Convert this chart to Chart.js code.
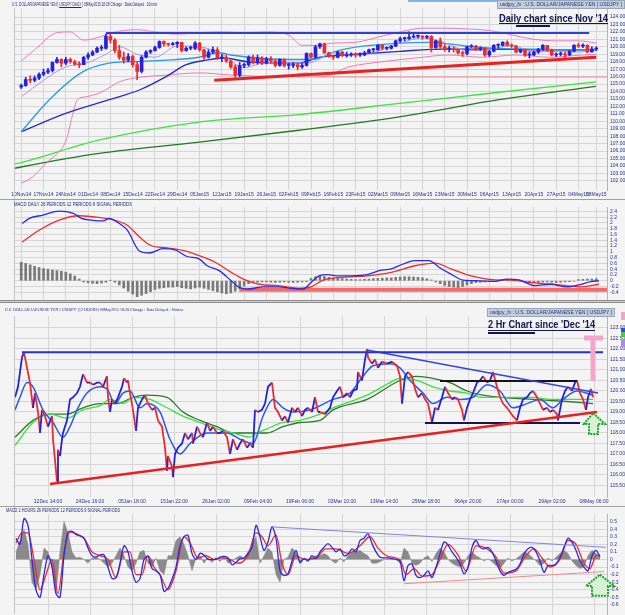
<!DOCTYPE html>
<html>
<head>
<meta charset="utf-8">
<title>USDJPY daily and 2 hour</title>
<script src="https://cdn.jsdelivr.net/npm/chart.js@4.4.1/dist/chart.umd.min.js"></script>
<style>
  body { margin: 0; width: 625px; height: 615px; background: #f4f4f4; position: relative; overflow: hidden; font-family: 'Liberation Sans', Arial, sans-serif; }
  canvas { position: absolute; left: 0; }
  .small { position: absolute; font-size: 5px; line-height: 6px; color: #1e2a78; white-space: nowrap; transform-origin: 0 0; }
  .box { position: absolute; background: #c3cfdb; border: 1px solid #98a6b6; height: 9px; box-sizing: border-box; overflow: hidden; }
  .box span { position: absolute; left: 2px; top: 0; font-size: 6px; line-height: 7px; color: #26307a; white-space: nowrap; transform-origin: 0 0; }
  .big { position: absolute; font: bold 11px 'Liberation Sans', Arial, sans-serif; color: #14164e; white-space: nowrap; transform-origin: 0 0; }
  .rule { position: absolute; }
</style>
</head>
<body>
<canvas id="dailyChart" width="625" height="200" style="top:0"></canvas>
<canvas id="dailyMacd" width="625" height="100" style="top:200px"></canvas>
<canvas id="hourChart" width="625" height="204" style="top:303px"></canvas>
<canvas id="hourMacd" width="625" height="108" style="top:507px"></canvas>

<div class="rule" style="left:408px;top:0;width:89px;height:2px;background:#7fb2e6"></div>
<div class="small" data-w="145" style="left:12px;top:1px">U.S. DOLLAR/JAPANESE YEN [ <u>USDJPY DAILY</u> ] 08May2015 18:28 Chicago : Data Delayed : 10mins</div>
<div class="box" style="left:497px;top:0;width:128px"><span data-w="122">usdjpy_fx : U.S. DOLLAR/JAPANESE YEN [ USDJPY ]</span></div>
<div class="big" data-w="109" style="left:499px;top:12px">Daily chart since Nov '14</div>
<div class="rule" style="left:499px;top:23px;width:109px;height:1px;background:#14164e"></div>
<div class="rule" style="left:516px;top:25px;width:34px;height:2px;background:#14164e"></div>
<div class="rule" style="left:14px;top:8px;width:1px;height:292px;background:#c4c4c4"></div>

<div class="rule" style="left:0;top:199px;width:625px;height:1px;background:#a0a0a0"></div>
<div class="small" data-w="118" style="left:14px;top:201px">MACD DAILY 26 PERIODS 12 PERIODS 9 SIGNAL PERIODS</div>

<div class="rule" style="left:0;top:300px;width:625px;height:1px;background:#d0d0d0;border-top:1px solid #8c8c8c;border-bottom:1px solid #8c8c8c"></div>
<div class="small" data-w="178" style="left:5px;top:307px;font-family:'Liberation Serif',serif">U.S. DOLLAR/JAPANESE YEN [ USDJPY ] [2 HOURS] 08May2015 18:28 Chicago : Data Delayed : 10mins</div>
<div class="box" style="left:487px;top:308px;width:128px"><span data-w="122">usdjpy_fx : U.S. DOLLAR/JAPANESE YEN [ USDJPY ]</span></div>
<div class="big" data-w="107" style="left:488px;top:318px">2 Hr Chart since 'Dec '14</div>
<div class="rule" style="left:488px;top:330px;width:107px;height:1px;background:#14164e"></div>
<div class="rule" style="left:488px;top:332px;width:47px;height:2px;background:#14164e"></div>
<div class="rule" style="left:14px;top:316px;width:1px;height:298px;background:#c4c4c4"></div>
<div class="rule" style="left:621px;top:312px;width:4px;height:8px;background:#f2a6c8"></div>
<div class="rule" style="left:621px;top:328px;width:4px;height:4px;background:#3a4ae0"></div>
<div class="rule" style="left:621px;top:332px;width:4px;height:5px;background:#3ed03e"></div>
<div class="rule" style="left:621px;top:340px;width:4px;height:7px;background:#a98ee0"></div>

<div class="rule" style="left:0;top:506px;width:625px;height:1px;background:#a0a0a0"></div>
<div class="small" data-w="114" style="left:6px;top:507px">MACD 2 HOURS 26 PERIODS 12 PERIODS 9 SIGNAL PERIODS</div>

<script>
// ---------- daily candles, one per trading day from 10 Nov 2014 to 08 May 2015
const dayOpen = [
  114.6, 114.8, 115.6, 115.5, 115.8, 116.3, 116.6, 116.8, 117.9, 118.3,
  117.8, 118.3, 118.0, 117.7, 117.6, 118.6, 118.9, 119.3, 119.8, 119.8,
  121.4, 120.9, 119.5, 118.6, 118.2, 118.7, 117.6, 116.7, 118.6, 119.3,
  119.5, 119.9, 120.7, 120.4, 120.3, 120.4, 120.6, 119.5, 119.8, 119.8,
  120.5, 119.6, 118.6, 119.3, 119.6, 118.5, 118.6, 118.1, 117.3, 116.2,
  117.5, 117.6, 118.6, 117.9, 118.5, 117.8, 118.4, 118.1, 117.5, 118.3,
  117.5, 117.5, 117.6, 117.3, 117.5, 119.1, 118.6, 120.0, 120.4, 119.2,
  118.7, 118.6, 119.3, 118.8, 118.9, 119.0, 118.9, 118.9, 119.2, 119.6,
  119.6, 120.2, 119.8, 119.8, 120.1, 120.8, 121.1, 121.1, 121.3, 121.4,
  121.4, 121.3, 121.4, 119.9, 120.8, 120.0, 119.7, 119.7, 119.6, 119.2,
  119.1, 120.0, 120.1, 119.7, 119.8, 118.9, 119.4, 120.2, 120.2, 120.6,
  120.2, 120.1, 119.3, 119.6, 118.9, 118.9, 119.3, 119.7, 120.2, 119.6,
  118.9, 119.0, 119.0, 118.9, 119.4, 120.2, 120.1, 120.2, 119.3, 119.7
];
const dayHigh = [
  115.0, 115.9, 116.1, 116.1, 116.5, 117.0, 117.1, 118.0, 118.6, 118.4,
  118.6, 118.5, 118.2, 118.0, 118.7, 119.2, 119.5, 120.0, 120.2, 121.7,
  121.85, 121.1, 120.2, 119.3, 119.1, 118.9, 118.0, 118.8, 119.5, 119.6,
  120.1, 120.8, 120.8, 120.5, 120.6, 120.7, 120.6, 120.0, 120.1, 120.7,
  120.6, 119.7, 119.6, 120.0, 119.9, 119.0, 118.9, 118.2, 117.6, 117.9,
  117.8, 118.8, 118.9, 118.9, 118.7, 118.6, 118.7, 118.3, 118.4, 118.4,
  117.8, 117.9, 117.8, 117.8, 119.2, 119.2, 120.2, 120.5, 120.5, 119.3,
  118.9, 119.4, 119.4, 119.3, 119.2, 119.2, 119.2, 119.4, 119.7, 119.8,
  120.3, 120.3, 120.0, 120.2, 120.9, 121.3, 121.3, 122.0, 121.7, 121.6,
  121.5, 121.5, 121.5, 120.9, 121.2, 120.4, 120.1, 120.0, 119.7, 119.4,
  120.1, 120.3, 120.2, 120.0, 119.9, 119.5, 120.3, 120.4, 120.7, 120.8,
  120.4, 120.2, 119.7, 119.7, 119.3, 119.4, 119.8, 120.3, 120.2, 119.7,
  119.2, 119.3, 119.3, 119.5, 120.3, 120.5, 120.4, 120.3, 120.0, 120.0
];
const dayLow = [
  114.4, 114.7, 115.2, 115.3, 115.6, 116.1, 116.4, 116.6, 117.8, 117.3,
  117.6, 117.8, 117.5, 117.2, 117.6, 118.3, 118.8, 119.2, 119.5, 119.7,
  120.5, 119.2, 118.3, 117.8, 118.0, 117.3, 115.6, 116.5, 118.5, 119.1,
  119.4, 119.8, 120.1, 120.1, 120.2, 119.9, 119.3, 119.4, 119.6, 119.6,
  119.4, 118.3, 118.5, 119.1, 118.3, 118.0, 117.9, 117.1, 115.9, 116.0,
  117.2, 117.4, 117.7, 117.7, 117.6, 117.7, 117.8, 117.3, 117.4, 117.3,
  117.0, 117.2, 116.9, 117.1, 117.4, 118.5, 118.4, 119.8, 119.1, 118.6,
  118.3, 118.5, 118.7, 118.6, 118.7, 118.6, 118.7, 118.8, 119.1, 119.3,
  119.5, 119.6, 119.6, 119.7, 120.0, 120.6, 120.8, 121.0, 121.2, 121.2,
  121.0, 121.1, 119.3, 119.8, 119.8, 119.4, 119.3, 119.3, 119.0, 118.7,
  118.9, 119.9, 119.5, 119.5, 118.7, 118.7, 119.3, 119.8, 120.1, 120.1,
  119.9, 119.2, 119.2, 118.7, 118.5, 118.8, 119.1, 119.5, 119.4, 118.8,
  118.7, 118.8, 118.5, 118.8, 119.3, 119.9, 119.9, 119.2, 119.3, 119.5
];
const dayClose = [
  114.8, 115.6, 115.5, 115.8, 116.3, 116.6, 116.8, 117.9, 118.3, 117.8,
  118.3, 118.0, 117.7, 117.6, 118.6, 118.9, 119.3, 119.8, 119.8, 121.4,
  120.9, 119.5, 118.6, 118.2, 118.7, 117.6, 116.7, 118.6, 119.3, 119.5,
  119.9, 120.7, 120.4, 120.3, 120.4, 120.6, 119.5, 119.8, 119.8, 120.5,
  119.6, 118.6, 119.3, 119.6, 118.5, 118.6, 118.1, 117.3, 116.2, 117.5,
  117.6, 118.6, 117.9, 118.5, 117.8, 118.4, 118.1, 117.5, 118.3, 117.5,
  117.5, 117.6, 117.3, 117.5, 119.1, 118.6, 120.0, 120.4, 119.2, 118.7,
  118.6, 119.3, 118.8, 118.9, 119.0, 118.9, 118.9, 119.2, 119.6, 119.6,
  120.2, 119.8, 119.8, 120.1, 120.8, 121.1, 121.1, 121.3, 121.4, 121.4,
  121.3, 121.4, 119.9, 120.8, 120.0, 119.7, 119.7, 119.6, 119.2, 119.1,
  120.0, 120.1, 119.7, 119.8, 118.9, 119.4, 120.2, 120.2, 120.6, 120.2,
  120.1, 119.3, 119.6, 118.9, 118.9, 119.3, 119.7, 120.2, 119.6, 118.9,
  119.0, 119.0, 118.9, 119.4, 120.2, 120.1, 120.2, 119.3, 119.7, 119.8
];
const dayTickIdx = [0, 5, 10, 15, 20, 25, 30, 35, 40, 45, 50, 55, 60, 65, 70, 75, 80, 85, 90, 95, 100, 105, 110, 115, 120, 125, 129];
const dayTickLabels = ['10Nov14', '17Nov14', '24Nov14', '01Dec14', '08Dec14', '15Dec14', '22Dec14', '29Dec14', '05Jan15',
  '12Jan15', '19Jan15', '26Jan15', '02Feb15', '09Feb15', '16Feb15', '23Feb15', '02Mar15', '09Mar15', '16Mar15', '23Mar15',
  '30Mar15', '06Apr15', '13Apr15', '20Apr15', '27Apr15', '04May15', '08May15'];
const dayPriceTicks = [102, 103, 104, 105, 106, 107, 108, 109, 110, 111, 112, 113, 114, 115, 116, 117, 118, 119, 120, 121, 122, 123, 124];

// daily overlays, [day index, price]
const dayMaShort = [[0, 113.3], [5, 115.5], [10, 117.3], [15, 117.9], [19, 119.0], [22, 120.0], [26, 119.0], [30, 118.6], [35, 120.1], [40, 120.0], [45, 119.0], [50, 117.2], [55, 117.9], [60, 117.8], [65, 117.9], [70, 119.2], [75, 118.9], [80, 119.4], [85, 120.5], [90, 121.2], [95, 120.5], [100, 119.5], [105, 119.6], [110, 120.2], [115, 119.3], [120, 119.4], [125, 119.3], [129, 119.7]];
const dayMaFast = [[0, 108.6], [6.3, 112.9], [13.7, 116.6], [19.7, 117.8], [24.9, 118.0], [32.5, 118.2], [39.9, 118.6], [44.4, 119.2], [47, 118.9], [55, 118.4], [62, 118.3], [67, 118.5], [70, 119.3], [85, 120.5], [92, 120.6], [100, 120.1], [107, 119.8], [115, 119.7], [122, 119.6], [129, 119.6]];
const dayMaSlow = [[0, 108.6], [10.1, 111.1], [19.7, 112.9], [26.5, 114.2], [32.5, 116.0], [37, 117.6], [41.5, 118.2], [45.1, 118.5], [52, 117.9], [62, 117.8], [67, 118.6], [75, 119.0], [85, 119.4], [95, 119.7], [105, 119.7], [115, 119.6], [129, 119.6]];
const dayBandUpper = [[0, 118.1], [3, 119.6], [8, 121.9], [11, 122.0], [14, 120.9], [17, 121.2], [19, 121.6], [22, 122.1], [26, 122.3], [30, 122.0], [35, 121.7], [40, 121.9], [45, 122.0], [50, 121.9], [55, 122.0], [60, 121.6], [63, 120.2], [66, 120.2], [70, 120.5], [75, 120.6], [80, 121.3], [85, 122.0], [90, 122.5], [95, 122.5], [100, 122.4], [105, 122.2], [110, 121.6], [115, 121.0], [120, 120.8], [125, 120.8], [129, 120.5]];
const dayBandLower = [[0, 101.7], [2.5, 102.5], [5.6, 104.4], [8.1, 105.7], [10.1, 107.5], [11.4, 110.6], [12.6, 112.9], [14.6, 113.3], [17.5, 113.8], [19.7, 114.5], [22, 115.3], [26.5, 115.9], [32.5, 116.2], [40, 116.5], [47.3, 116.2], [58.5, 116.0], [64, 116.5], [67.5, 116.0], [73.5, 117.3], [81, 118.0], [88.5, 118.5], [96, 118.9], [103.4, 118.6], [111, 118.9], [118.4, 118.6], [125.8, 118.9], [129, 119.0]];
const dayMa100 = [[-1.4, 104.3], [0.2, 104.5], [17.5, 107.5], [39.9, 109.9], [62.3, 110.9], [84.8, 112.4], [107.2, 113.9], [128.9, 115.3]];
const dayMa200 = [[-1.4, 103.7], [0.2, 103.9], [17.5, 105.7], [39.9, 107.2], [62.3, 108.8], [84.8, 110.6], [107.2, 112.9], [128.9, 114.7]];
const dayResistance = [[19, 121.85], [127.4, 121.85]];
const daySupport = [[43.3, 115.5], [129, 118.6]];
const dayAlert = [[62, 115.95], [131.4, 115.95]];

// daily MACD (26, 12, 9)
const dmacdLine = [[0.2, 1.98], [1.8, 2.16], [4.9, 2.27], [8.5, 2.41], [11.7, 2.33], [13.5, 2.16], [15.7, 2.10], [18.4, 2.07], [19.7, 2.16], [22, 1.98], [23.8, 1.75], [26.5, 1.03], [28.7, 0.96], [31.8, 1.11], [34.5, 1.07], [37.2, 0.84], [39.9, 0.76], [41.7, 0.52], [44.4, 0.35], [47.1, 0.0], [48.9, -0.23], [50.7, -0.29], [54.3, -0.21], [57.8, -0.21], [60.5, -0.26], [63.2, -0.29], [65, -0.06], [66.8, 0.17], [68.6, 0.21], [71.3, 0.17], [74, 0.17], [77.6, 0.21], [80.3, 0.35], [83, 0.41], [85.7, 0.58], [88.3, 0.70], [91.5, 0.70], [93.7, 0.47], [96.4, 0.23], [99.1, 0.02], [102.7, 0.0], [106.3, -0.02], [109, 0.06], [111.7, 0.03], [115.2, -0.17], [118.8, -0.12], [122.4, -0.21], [125.1, -0.14], [127.8, -0.03], [129.6, 0.0]];
const dmacdSignal = [[0.2, 1.34], [4, 1.75], [8.5, 2.10], [13, 2.25], [17.5, 2.19], [20.2, 2.12], [23.8, 1.92], [26.5, 1.52], [29.1, 1.22], [32.7, 1.14], [36.3, 1.05], [39.9, 0.87], [43.5, 0.64], [47.1, 0.29], [49.8, 0.06], [53.4, -0.12], [57.8, -0.17], [62.3, -0.26], [65, -0.21], [67.7, 0.02], [72.2, 0.12], [77.6, 0.17], [83, 0.29], [88.3, 0.52], [92.8, 0.61], [96.4, 0.41], [100.9, 0.17], [106.3, 0.03], [109.9, 0.02], [114.3, -0.06], [120.6, -0.14], [125.1, -0.21], [129.6, -0.12]];
const dmacdHist = [
  0.64, 0.6, 0.55, 0.5, 0.46, 0.42, 0.4, 0.37, 0.35, 0.33, 0.3, 0.24, 0.16,
  0.06, -0.04, -0.07, -0.09, -0.1, -0.08, -0.05, 0.02, -0.05,
  -0.14, -0.25, -0.36, -0.46, -0.55, -0.5, -0.44, -0.38, -0.3,
  -0.26, -0.24, -0.22, -0.22, -0.2, -0.24, -0.26, -0.28, -0.25, -0.22, -0.26, -0.3, -0.34, -0.38, -0.42,
  -0.45, -0.42, -0.36, -0.28, -0.18,
  -0.1, -0.06, -0.05, -0.04, -0.04, -0.05, -0.06, -0.05, -0.04, -0.05, -0.06, -0.05, -0.04, -0.03,
  0.08, 0.14, 0.16, 0.15, 0.12, 0.1,
  0.08, 0.07, 0.06, 0.05, 0.04, 0.04, 0.05, 0.06, 0.07, 0.08,
  0.09, 0.1, 0.1, 0.12, 0.13, 0.14, 0.14, 0.13, 0.12, 0.1, 0.07, 0.03, -0.04,
  -0.1, -0.16, -0.2, -0.22, -0.24, -0.2, -0.15, -0.1,
  -0.06, -0.05, -0.04, -0.03, -0.02, 0.01, 0.03, 0.04, 0.03, 0.02, 0.0,
  -0.03, -0.05, -0.06, -0.05, -0.04, -0.04, -0.05, -0.06, -0.05, -0.04, -0.03, -0.02,
  0.04, 0.05, 0.06, 0.06, 0.07
];
const dmacdFloor = [[48.9, -0.31], [131.4, -0.31]];
const dmacdTicks = [2.4, 2.2, 2, 1.8, 1.6, 1.4, 1.2, 1, 0.8, 0.6, 0.4, 0.2, 0, -0.2, -0.4];

// ---------- 2 hour chart, x = time step (about 2 bars per step)
const hourTickPos = [33, 75, 117, 159, 201, 243, 285, 327, 369, 411, 453, 495, 537, 579];
const hourTickLabels = ['12Dec 14:00', '24Dec 16:00', '05Jan 18:00', '15Jan 22:00', '26Jan 02:00', '09Feb 04:00', '19Feb 06:00',
  '03Mar 10:00', '13Mar 14:00', '25Mar 18:00', '06Apr 20:00', '17Apr 00:00', '29Apr 02:00', '08May 06:00'];
const hourPriceTicks = [115.5, 116, 116.5, 117, 117.5, 118, 118.5, 119, 119.5, 120, 120.5, 121, 121.5, 122, 122.5, 123];
const hourPrice = [
  [0, 119.7], [3, 120.2], [7, 121.6], [9, 121.85], [12, 121.1], [15, 120.4], [18, 119.2], [20, 119.9], [23, 119.0], [25, 118.0],
  [27, 119.1], [30, 118.8], [33, 118.3], [37, 118.8], [38, 117.7], [42, 115.7], [43, 117.2], [45, 116.9], [47, 117.7], [48, 118.0],
  [52, 118.6], [55, 119.6], [58, 119.7], [62, 119.9], [65, 120.2], [68, 120.8], [72, 120.4], [75, 120.4], [78, 120.3], [82, 120.4],
  [85, 120.4], [88, 120.2], [92, 120.7], [93, 119.7], [95, 119.0], [97, 119.6], [100, 119.4], [103, 119.7], [107, 120.2], [109, 120.6],
  [112, 120.4], [113, 120.5], [115, 119.9], [118, 119.1], [121, 118.1], [123, 119.2], [127, 119.6], [130, 119.8], [133, 119.4], [137, 119.1],
  [140, 119.2], [143, 118.6], [147, 118.3], [150, 117.3], [152, 116.2], [153, 116.9], [157, 116.4], [158, 115.9], [160, 117.0], [163, 117.3],
  [167, 117.5], [170, 118.0], [173, 117.7], [177, 118.0], [178, 117.5], [182, 118.3], [185, 118.0], [188, 117.8], [192, 118.5], [195, 118.1],
  [198, 118.3], [202, 118.0], [205, 118.0], [208, 118.1], [212, 117.8], [215, 117.0], [218, 117.7], [222, 117.2], [225, 117.5], [228, 117.7],
  [232, 117.3], [235, 117.5], [238, 117.3], [240, 119.1], [243, 119.0], [247, 119.1], [250, 119.4], [253, 120.2], [257, 120.4], [258, 120.0],
  [260, 119.2], [263, 119.0], [267, 118.6], [270, 118.8], [273, 118.5], [277, 119.2], [280, 119.0], [283, 119.2], [287, 118.8], [290, 119.1],
  [293, 119.2], [297, 119.0], [300, 119.7], [303, 119.0], [305, 119.0], [310, 118.9], [315, 119.2], [318, 119.7], [322, 120.0], [325, 120.2],
  [328, 119.7], [332, 119.9], [335, 119.7], [338, 120.0], [342, 120.1], [343, 120.9], [347, 120.5], [350, 121.5], [352, 122.0], [353, 121.6],
  [357, 121.3], [360, 121.5], [363, 121.1], [367, 121.4], [372, 121.3], [377, 121.4], [382, 121.2], [385, 120.7], [387, 119.4], [390, 120.7],
  [393, 120.9], [397, 120.7], [400, 120.1], [403, 119.7], [407, 119.9], [410, 119.6], [413, 119.4], [417, 118.5], [420, 119.2], [423, 119.1],
  [427, 119.7], [430, 120.2], [433, 119.9], [437, 119.6], [440, 119.7], [443, 119.6], [447, 119.1], [449, 118.6], [452, 119.2], [455, 119.6],
  [458, 119.9], [462, 120.4], [465, 120.5], [468, 120.7], [472, 120.4], [475, 120.5], [478, 120.9], [482, 120.2], [485, 119.7], [488, 119.4],
  [492, 119.2], [495, 119.0], [498, 118.8], [502, 118.6], [505, 119.2], [508, 119.6], [512, 119.7], [515, 119.9], [518, 120.0], [522, 119.7],
  [525, 119.4], [528, 119.1], [532, 119.2], [535, 119.0], [538, 119.1], [542, 118.9], [543, 118.6], [547, 119.6], [550, 120.0], [553, 120.2],
  [557, 120.0], [560, 120.4], [562, 120.5], [565, 119.9], [568, 119.6], [571, 119.1], [573, 119.7], [576, 120.1], [578, 119.7]
];
const hourMa = [[0, 119.1], [5, 119.7], [12, 120.4], [18, 120.2], [28, 119.1], [38, 118.5], [48, 117.8], [55, 118.3], [62, 119.1], [72, 119.9], [85, 120.2], [92, 120.1], [100, 119.4], [108, 119.9], [115, 120.0], [125, 119.2], [132, 119.4], [145, 119.0], [155, 117.7], [165, 117.0], [175, 117.5], [192, 118.0], [212, 118.0], [225, 117.7], [238, 117.5], [248, 118.8], [258, 119.6], [268, 119.2], [278, 119.0], [295, 119.1], [318, 119.6], [335, 119.9], [348, 120.7], [358, 121.2], [375, 121.3], [385, 121.1], [395, 120.5], [408, 119.9], [418, 119.4], [432, 119.7], [445, 119.6], [458, 119.7], [472, 120.3], [485, 120.0], [498, 119.2], [512, 119.4], [525, 119.6], [538, 119.2], [548, 119.6], [562, 120.0], [578, 119.8]];
const hourGreen = [[0, 117.4], [18, 118.5], [35, 118.9], [52, 118.7], [68, 119.1], [85, 119.3], [95, 119.6], [108, 119.4], [118, 119.7], [135, 119.6], [152, 119.2], [168, 118.8], [185, 118.5], [202, 118.2], [218, 118.0], [235, 117.8], [242, 118.0], [252, 118.2], [268, 118.5], [285, 118.6], [305, 118.9], [318, 119.2], [352, 119.8], [375, 120.4], [385, 120.6], [402, 120.5], [418, 120.2], [435, 120.0], [452, 119.9], [468, 119.7], [485, 119.7], [502, 119.7], [518, 119.7], [535, 119.6], [552, 119.6], [568, 119.6], [578, 119.6]];
const hourDarkGreen = [[0, 117.8], [18, 118.6], [35, 118.9], [52, 118.9], [68, 119.2], [85, 119.4], [102, 119.4], [118, 119.7], [132, 119.8], [152, 119.7], [168, 119.0], [185, 118.6], [202, 118.3], [218, 118.0], [235, 118.0], [252, 118.0], [268, 118.3], [285, 118.5], [305, 118.6], [318, 119.1], [352, 119.6], [385, 120.5], [402, 120.7], [418, 120.6], [435, 120.4], [452, 120.0], [468, 119.8], [485, 119.7], [518, 119.6], [552, 119.5], [578, 119.4]];
const hourResistance = [[7, 121.85], [588, 121.85]];
const hourFalling = [[352, 121.95], [583, 119.9]];
const hourSupport = [[35, 115.57], [582, 119.0]];
const hourRangeTop = [[425, 120.48], [562, 120.48]];
const hourRangeBottom = [[410, 118.48], [565, 118.48]];
const hourTarget = {x: 578, from: 120.48, to: 122.52, x0: 569, x1: 588};
const hourArrow = {tip: 578, top: 118.95, head: [569, 590], shaft: [574, 583], base: 118.43, bottom: 117.95};

// 2 hour MACD (26, 12, 9); line and histogram sampled every 4 steps from step 1
const hmacdLine = [
  0.28, 0.2, 0.54, 0.45, 0.0, -0.4, -0.5, -0.2, 0.05, -0.1, -0.45, -0.5, 0.05, 0.36, 0.37, 0.33, 0.31, 0.28, 0.15, 0.05,
  0.03, 0.06, 0.06, -0.1, -0.25, -0.24, -0.05, 0.18, 0.1, -0.15, -0.3, -0.25, 0.0, 0.04, -0.12, -0.15, -0.2, -0.42, -0.38, -0.26,
  -0.1, 0.18, 0.3, 0.32, 0.08, 0.0, 0.08, 0.06, 0.0, 0.0, 0.0, 0.03, 0.04, 0.02, -0.07, -0.04, 0.01, 0.02, 0.08, 0.16,
  0.45, 0.3, 0.12, 0.23, 0.43, 0.28, -0.15, -0.21, -0.19, -0.02, 0.12, -0.04, 0.01, -0.02, 0.05, 0.01, 0.1, 0.16, 0.21, 0.16,
  0.1, 0.14, 0.05, 0.07, 0.14, 0.1, 0.25, 0.28, 0.34, 0.21, 0.1, 0.03, 0.02, 0.02, 0.01, 0.0, -0.02, -0.28, -0.08, -0.06,
  -0.21, -0.24, -0.21, -0.15, -0.24, -0.1, 0.07, 0.23, 0.19, 0.1, 0.03, -0.06, -0.19, -0.1, 0.16, 0.25, 0.16, 0.14, 0.16, 0.1,
  -0.02, -0.15, -0.21, -0.17, -0.15, -0.13, -0.06, 0.07, 0.14, 0.16, 0.1, -0.02, -0.17, -0.08, -0.08, -0.06, 0.03, 0.16, 0.28, 0.23,
  0.12, -0.02, -0.1, -0.15, 0.05, 0.12, 0.03
];
const hmacdHist = [
  0.1, 0.25, 0.4, 0.2, -0.3, -0.4, -0.2, 0.15, 0.1, -0.1, -0.45, 0.1, 0.5, 0.35, 0.1, 0.02, 0.03, 0.0, -0.05, 0.02,
  0.03, 0.0, -0.05, -0.1, -0.05, 0.05, 0.15, 0.05, -0.1, -0.15, -0.05, 0.1, 0.12, -0.05, -0.1, 0.02, -0.15, -0.2, 0.05, 0.05,
  0.25, 0.3, 0.2, 0.05, -0.15, 0.02, 0.05, -0.05, 0.03, -0.04, 0.03, -0.03, 0.05, -0.05, -0.02, 0.02, 0.05, 0.02, 0.1, 0.2,
  0.3, -0.05, 0.05, 0.15, 0.1, -0.2, -0.3, 0.0, 0.03, 0.15, 0.1, -0.05, 0.02, 0.0, 0.03, 0.05, 0.05, 0.08, 0.05, -0.02,
  -0.05, 0.02, -0.03, 0.05, 0.1, 0.1, 0.12, 0.08, 0.05, -0.05, -0.05, -0.03, 0.0, 0.01, 0.0, 0.0, -0.05, 0.15, 0.1, -0.05,
  -0.08, -0.05, 0.02, 0.05, -0.03, 0.08, 0.15, 0.1, 0.0, -0.05, -0.08, -0.1, -0.05, 0.05, 0.1, 0.05, 0.02, -0.02, 0.01, -0.03,
  -0.08, -0.12, -0.05, 0.02, -0.02, 0.01, 0.05, 0.1, 0.08, 0.03, -0.02, -0.08, -0.05, 0.02, -0.02, 0.03, 0.08, 0.12, 0.08, -0.02,
  -0.08, -0.12, -0.1, 0.05, 0.12, 0.08, 0.02
];
const hmacdSignal = [[1, 0.22], [7, 0.35], [13, 0.35], [19, 0.0], [25, -0.4], [31, -0.2], [37, 0.0], [43, -0.45], [49, 0.1], [55, 0.36], [61, 0.34], [69, 0.28], [77, 0.1], [85, 0.05], [93, 0.0], [101, -0.24], [109, 0.1], [115, 0.1], [121, -0.2], [127, -0.2], [133, 0.05], [139, -0.1], [145, -0.2], [153, -0.4], [161, -0.15], [169, 0.3], [175, 0.22], [183, 0.02], [191, 0.05], [199, 0.0], [207, 0.02], [215, 0.0], [223, -0.05], [233, 0.05], [241, 0.35], [247, 0.3], [253, 0.18], [261, 0.32], [267, -0.05], [273, -0.2], [281, 0.05], [289, 0.0], [301, 0.02], [311, 0.14], [321, 0.14], [333, 0.08], [345, 0.18], [355, 0.3], [363, 0.15], [373, 0.04], [385, 0.0], [391, -0.2], [399, -0.12], [407, -0.22], [417, -0.2], [425, 0.0], [433, 0.2], [443, 0.06], [451, -0.15], [461, 0.18], [471, 0.15], [481, 0.03], [489, -0.18], [501, -0.15], [511, 0.05], [519, 0.14], [527, 0.02], [535, -0.1], [545, 0.0], [553, 0.25], [561, 0.2], [569, -0.05], [575, -0.12], [581, 0.05], [585, 0.06]];
const hmacdUpper = [[257, 0.43], [591, 0.16]];
const hmacdLower = [[389, -0.32], [589, -0.16]];
const hmacdTicks = [0.5, 0.4, 0.3, 0.2, 0.1, 0, -0.1, -0.2, -0.3, -0.4, -0.5, -0.6];
const hmacdArrow = {tip: 585, top: -0.2, head: [571, 599], shaft: [577, 593], base: -0.35, bottom: -0.48};

// ---------- helpers
const GRID = '#d6d6d6';
const TICK_FONT = {size: 5, family: "'Liberation Sans', Arial, sans-serif"};
const TICK_COLOR = '#27318a';
const UP = '#2222e0', DOWN = '#ee2b2b';

const pts = a => a.map(([x, y]) => ({x, y}));

function lineSet(data, color, width, extra) {
  return Object.assign({
    type: 'line', data: pts(data), borderColor: color, borderWidth: width,
    pointRadius: 0, fill: false, tension: 0.4, cubicInterpolationMode: 'monotone'
  }, extra || {});
}

function xAxis(min, max, pos, labels, show) {
  return {
    type: 'linear', min, max, offset: false,
    afterBuildTicks: s => { s.ticks = pos.map(v => ({value: v})); },
    afterFit: s => { s.height = show ? 10 : 0; s.paddingLeft = 0; s.paddingRight = 0; },
    grid: {color: GRID, lineWidth: 1, drawTicks: false, offset: false},
    border: {display: false},
    ticks: {display: show, autoSkip: false, maxRotation: 0, padding: 2, font: TICK_FONT, color: TICK_COLOR,
      callback: (v, i) => labels[i]}
  };
}

function yAxis(min, max, ticks, fmt) {
  return {
    type: 'linear', position: 'right', min, max,
    afterBuildTicks: s => { s.ticks = ticks.map(v => ({value: v})); },
    afterFit: s => { s.width = 18; s.paddingTop = 0; s.paddingBottom = 0; },
    grid: {color: GRID, lineWidth: 1, drawTicks: false},
    border: {display: true, color: '#b4b4b4'},
    ticks: {autoSkip: false, padding: 3, font: TICK_FONT, color: TICK_COLOR, callback: v => fmt(v)}
  };
}

function baseOptions(top, x, y) {
  return {
    responsive: false, animation: false, events: [],
    layout: {padding: {left: 15, right: 0, top, bottom: 0}},
    plugins: {legend: {display: false}, tooltip: {enabled: false}},
    scales: {x, y}
  };
}

// target bar and arrows drawn in data units
function marks(tees, arrows) {
  return {
    id: 'marks',
    afterDatasetsDraw(chart) {
      const ctx = chart.ctx, xs = chart.scales.x, ys = chart.scales.y;
      const X = v => xs.getPixelForValue(v), Y = v => ys.getPixelForValue(v);
      ctx.save();
      tees.forEach(t => {
        ctx.strokeStyle = '#f4a6c8';
        ctx.lineWidth = 5;
        ctx.beginPath();
        ctx.moveTo(X(t.x), Y(t.from)); ctx.lineTo(X(t.x), Y(t.to));
        ctx.moveTo(X(t.x0), Y(t.to)); ctx.lineTo(X(t.x1), Y(t.to));
        ctx.stroke();
      });
      arrows.forEach(a => {
        ctx.beginPath();
        ctx.moveTo(X(a.tip), Y(a.top));
        ctx.lineTo(X(a.head[1]), Y(a.base));
        ctx.lineTo(X(a.shaft[1]), Y(a.base));
        ctx.lineTo(X(a.shaft[1]), Y(a.bottom));
        ctx.lineTo(X(a.shaft[0]), Y(a.bottom));
        ctx.lineTo(X(a.shaft[0]), Y(a.base));
        ctx.lineTo(X(a.head[0]), Y(a.base));
        ctx.closePath();
        ctx.fillStyle = '#d8f2d4';
        ctx.fill();
        ctx.setLineDash([2, 1]);
        ctx.strokeStyle = '#1fa334';
        ctx.lineWidth = 2;
        ctx.stroke();
      });
      ctx.restore();
    }
  };
}

const candleColors = dayClose.map((c, i) => c >= dayOpen[i] ? UP : DOWN);
const DAY_MIN = -1.4, DAY_MAX = 131.4;

// ---------- daily price
new Chart(document.getElementById('dailyChart'), {
  type: 'line',
  data: {datasets: [
    lineSet(dayResistance, '#2f3fd8', 2, {tension: 0}),
    lineSet(daySupport, '#e82222', 3, {tension: 0}),
    lineSet(dayAlert, '#f08a9a', 1, {tension: 0}),
    {type: 'bar', data: dayClose.map((c, i) => ({x: i, y: [dayLow[i], dayHigh[i]]})), backgroundColor: candleColors, barThickness: 1, grouped: false},
    {type: 'bar', data: dayClose.map((c, i) => ({x: i, y: [dayOpen[i], c]})), backgroundColor: candleColors, barThickness: 3, minBarLength: 1, grouped: false},
    lineSet(dayMaShort, '#a996e6', 1),
    lineSet(dayMaFast, '#2a9ae8', 1.3),
    lineSet(dayMaSlow, '#2a2ac8', 1.3),
    lineSet(dayBandUpper, '#f07ab4', 1),
    lineSet(dayBandLower, '#f07ab4', 1),
    lineSet(dayMa100, '#3ee23e', 1.3),
    lineSet(dayMa200, '#237a23', 1.3)
  ]},
  options: baseOptions(8,
    xAxis(DAY_MIN, DAY_MAX, dayTickIdx, dayTickLabels, true),
    yAxis(100.78, 125.21, dayPriceTicks, v => v.toFixed(2)))
});

// ---------- daily MACD
new Chart(document.getElementById('dailyMacd'), {
  type: 'line',
  data: {datasets: [
    lineSet(dmacdLine, '#2a2ae6', 1.3),
    lineSet(dmacdSignal, '#ef2f2f', 1.3),
    lineSet(dmacdFloor, '#f26a6a', 4, {tension: 0}),
    {type: 'bar', data: dmacdHist.map((h, i) => ({x: i, y: h})), backgroundColor: '#7a7a7a', barThickness: 2, grouped: false}
  ]},
  options: baseOptions(7,
    xAxis(DAY_MIN, DAY_MAX, dayTickIdx, dayTickLabels, false),
    yAxis(-0.665, 2.552, dmacdTicks, v => String(parseFloat(v.toFixed(1)))))
});

// ---------- 2 hour price
new Chart(document.getElementById('hourChart'), {
  type: 'line',
  data: {datasets: [
    lineSet(hourResistance, '#2430d8', 2, {tension: 0}),
    lineSet(hourFalling, '#3a44d8', 1.5, {tension: 0}),
    lineSet(hourSupport, '#e82020', 2.5, {tension: 0}),
    lineSet(hourRangeTop, '#151515', 2, {tension: 0}),
    lineSet(hourRangeBottom, '#14164e', 2, {tension: 0}),
    {type: 'line', data: pts(hourPrice), borderWidth: 1.8, pointRadius: 0, tension: 0, borderColor: DOWN,
      segment: {borderColor: c => c.p1.parsed.y >= c.p0.parsed.y ? UP : DOWN}},
    lineSet(hourMa, '#2a5ae8', 1.5),
    lineSet(hourGreen, '#3ee03e', 1.3),
    lineSet(hourDarkGreen, '#2e7a2e', 1.3)
  ]},
  options: baseOptions(13,
    xAxis(0, 592, hourTickPos, hourTickLabels, true),
    yAxis(114.952, 123.571, hourPriceTicks, v => v.toFixed(2))),
  plugins: [marks([hourTarget], [hourArrow])]
});

// ---------- 2 hour MACD
new Chart(document.getElementById('hourMacd'), {
  type: 'line',
  data: {datasets: [
    lineSet(hmacdUpper, '#7f86e6', 1, {tension: 0}),
    lineSet(hmacdLower, '#f08a8a', 1, {tension: 0}),
    {type: 'line', data: hmacdLine.map((v, i) => ({x: 1 + 4 * i, y: v})), borderColor: '#2a2ae6', borderWidth: 1.3, pointRadius: 0, tension: 0.3},
    lineSet(hmacdSignal, '#ee2a2a', 1.3),
    {type: 'line', data: hmacdHist.map((v, i) => ({x: 1 + 4 * i, y: v})), borderColor: '#858585', backgroundColor: '#8a8a8a',
      borderWidth: 0.5, fill: 'origin', pointRadius: 0, tension: 0}
  ]},
  options: baseOptions(7,
    xAxis(0, 592, hourTickPos, hourTickLabels, false),
    yAxis(-0.733, 0.6, hmacdTicks, v => String(parseFloat(v.toFixed(1))))),
  plugins: [marks([], [hmacdArrow])]
});

// squeeze the small header texts to the widths they take in the picture
document.querySelectorAll('[data-w]').forEach(el => {
  const w = el.getBoundingClientRect().width;
  el.style.transform = 'scaleX(' + (el.dataset.w / w) + ')';
});
</script>
</body>
</html>
